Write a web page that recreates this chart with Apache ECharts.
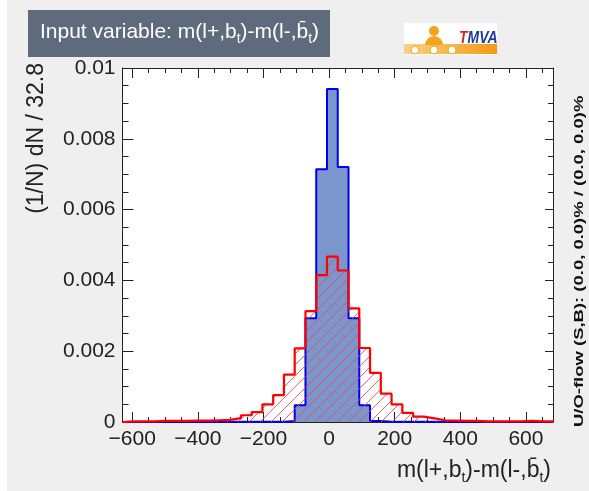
<!DOCTYPE html>
<html lang="en">
<head>
	<meta charset="utf-8">
	<title>TMVA input variable</title>
	<script src="https://cdn.jsdelivr.net/npm/echarts@6/dist/echarts.min.js"></script>
	<style>
		html, body { margin: 0; padding: 0; background: #efefef; }
		#panel { width: 589px; height: 491px; }
	</style>
</head>
<body>
	<div id="panel"></div>
	<script type="text/javascript">
		// histogram binning: 40 bins of 32.8
		const xMin = -629.5;
		const binWidth = 32.8;
		const nBins = 40;
		const xMax = xMin + nBins * binWidth;

		// signal (blue, filled), one value per bin
		const sigValues = [
			0, 0, 0, 0, 0, 0, 0, 0, 0.00001, 0.00001,
			0.00001, 0.00001, 0.00001, 0.00001, 0.00001, 0.00003, 0.00047, 0.00293, 0.00714, 0.00941,
			0.00720, 0.00293, 0.00047, 0.00003, 0.00001, 0.00001, 0.00001, 0.00001, 0.00001, 0.00001,
			0.00001, 0, 0, 0, 0, 0, 0, 0, 0, 0
		];
		// background (red, hatched), one value per bin
		const bkgValues = [
			0.00002, 0.00002, 0.00002, 0.00003, 0.00003, 0.00003, 0.00004, 0.00004, 0.00005, 0.00006,
			0.00011, 0.00019, 0.00028, 0.00050, 0.00076, 0.00134, 0.00208, 0.00313, 0.00415, 0.00467,
			0.00428, 0.00321, 0.00209, 0.00139, 0.00080, 0.00050, 0.00026, 0.00015, 0.00010, 0.00005,
			0.00004, 0.00003, 0.00003, 0.00002, 0.00002, 0.00002, 0.00002, 0.00003, 0.00002, 0.00002
		];

		const font = '"Liberation Sans", Arial, Helvetica, sans-serif';
		const axisColor = '#222';

		// turn bin values into points for a step line
		function stepPoints(values) {
			const pts = [[xMin, 0]];
			values.forEach((v, i) => pts.push([xMin + i * binWidth, v]));
			pts.push([xMax, 0]);
			return pts;
		}

		// [left edge, right edge, value] for the hatched bins
		const bkgBins = bkgValues.map((v, i) => [xMin + i * binWidth, xMin + (i + 1) * binWidth, v]);

		// red "/" hatching inside one bin (like ROOT fill style 3554)
		function renderHatch(params, api) {
			const p0 = api.coord([api.value(0), 0]);
			const p1 = api.coord([api.value(1), api.value(2)]);
			const x0 = p0[0], x1 = p1[0], yb = p0[1], yt = p1[1];
			const gap = 11;
			const children = [];
			for (let c = Math.ceil((x0 + yt) / gap) * gap; c <= x1 + yb; c += gap) {
				const ya = Math.max(yt, c - x1);
				const yz = Math.min(yb, c - x0);
				if (yz - ya > 0.5) {
					children.push({
						type: 'line',
						shape: { x1: c - ya, y1: ya, x2: c - yz, y2: yz },
						style: { stroke: 'rgba(235,70,70,0.85)', lineWidth: 1 }
					});
				}
			}
			return { type: 'group', children: children };
		}

		function frameAxis(pos, show, major, minor) {
			const horiz = pos === 'top' || pos === 'bottom';
			return {
				type: 'value',
				position: pos,
				min: horiz ? xMin : 0,
				max: horiz ? xMax : 0.01,
				splitNumber: 6,
				interval: horiz ? undefined : 0.002,
				axisLine: { show: true, onZero: false, lineStyle: { color: axisColor, width: 1 } },
				axisTick: { show: true, inside: true, length: major, lineStyle: { color: axisColor } },
				minorTick: { show: true, splitNumber: 4, length: minor, lineStyle: { color: axisColor } },
				splitLine: { show: false },
				axisLabel: {
					show: show,
					margin: 7,
					fontSize: 21,
					fontFamily: font,
					color: axisColor,
					showMinLabel: !horiz,
					showMaxLabel: !horiz,
					formatter: (v) => String(v).replace('-', '\u2212')
				}
			};
		}

		const subStyle = { fontSize: 14, fontFamily: font, padding: [14, 0, 0, 0] };

		const panel = echarts.init(document.getElementById('panel'));
		const option = {
			backgroundColor: '#efefef',
			animation: false,
			grid: { left: 122.5, right: 36, top: 68, bottom: 69, show: true, backgroundColor: '#fff', borderWidth: 0 },
			xAxis: [frameAxis('bottom', true, 10, 5), frameAxis('top', false, 10, 5)],
			yAxis: [frameAxis('left', true, 11, 6), frameAxis('right', false, 8, 5)],
			series: [
				{
					name: 'Signal',
					type: 'line',
					step: 'end',
					symbol: 'none',
					data: stepPoints(sigValues),
					lineStyle: { color: '#0000ee', width: 2 },
					areaStyle: { color: '#7b95cd', opacity: 1 },
					z: 2
				},
				{
					name: 'Background hatch',
					type: 'custom',
					renderItem: renderHatch,
					data: bkgBins,
					encode: { x: [0, 1], y: 2 },
					clip: true,
					z: 3
				},
				{
					name: 'Background',
					type: 'line',
					step: 'end',
					symbol: 'none',
					data: stepPoints(bkgValues),
					lineStyle: { color: '#ff0000', width: 2.2 },
					z: 4
				}
			],
			graphic: [
				{ type: 'rect', shape: { x: 0, y: 0, width: 7, height: 491 }, style: { fill: '#fff' } },
				// title box
				{ type: 'rect', shape: { x: 28, y: 10, width: 302, height: 47 }, style: { fill: '#5d6b7d' } },
				{
					type: 'text', x: 40, y: 32,
					style: {
						text: 'Input variable: m(l+,b{s|t})-m(l-,b\u0304{s|t})',
						fontSize: 21, fontFamily: font, fill: '#fff', verticalAlign: 'middle',
						rich: { s: Object.assign({ fill: '#fff' }, subStyle) }
					}
				},
				// TMVA logo
				{ type: 'rect', shape: { x: 404, y: 23, width: 93, height: 32 }, style: { fill: '#fff' } },
				{
					type: 'rect', shape: { x: 404, y: 44, width: 93, height: 10 },
					style: { fill: new echarts.graphic.LinearGradient(0, 0, 1, 0, [{ offset: 0, color: '#fbd08a' }, { offset: 1, color: '#f39a12' }]) }
				},
				{ type: 'circle', shape: { cx: 434, cy: 31, r: 5 }, style: { fill: '#f5a31c' } },
				{ type: 'sector', shape: { cx: 434, cy: 45, r: 9, startAngle: Math.PI, endAngle: Math.PI * 2 }, style: { fill: '#f5a31c' } },
				{ type: 'circle', shape: { cx: 415, cy: 50, r: 4 }, style: { fill: '#fff', stroke: '#f5a31c', lineWidth: 1 } },
				{ type: 'circle', shape: { cx: 434, cy: 50, r: 4 }, style: { fill: '#fff', stroke: '#f5a31c', lineWidth: 1 } },
				{ type: 'circle', shape: { cx: 452, cy: 50, r: 4 }, style: { fill: '#fff', stroke: '#f5a31c', lineWidth: 1 } },
				{
					type: 'text', x: 459, y: 38, scaleX: 0.82,
					style: {
						text: '{t|T}{m|MVA}', verticalAlign: 'middle',
						rich: {
							t: { fontSize: 17, fontWeight: 'bold', fontStyle: 'italic', fontFamily: font, fill: '#e02020' },
							m: { fontSize: 17, fontWeight: 'bold', fontStyle: 'italic', fontFamily: font, fill: '#1c3c9c' }
						}
					}
				},
				// axis titles
				{
					type: 'text', x: 37, y: 63, rotation: Math.PI / 2,
					style: { text: '(1/N) dN / 32.8', fontSize: 23, fontFamily: font, fill: axisColor, align: 'right', verticalAlign: 'middle' }
				},
				{
					type: 'text', x: 551, y: 471,
					style: {
						text: 'm(l+,b{s|t})-m(l-,b\u0304{s|t})',
						fontSize: 23, fontFamily: font, fill: axisColor, align: 'right', verticalAlign: 'middle',
						rich: { s: Object.assign({ fill: axisColor }, subStyle) }
					}
				},
				{
					type: 'text', x: 579, y: 427, rotation: Math.PI / 2, scaleX: 1.42,
					style: {
						text: 'U/O-flow (S,B): (0.0, 0.0)% / (0.0, 0.0)%',
						fontSize: 13, fontWeight: 'bold', fontFamily: font, fill: '#111', align: 'left', verticalAlign: 'middle'
					}
				}
			]
		};
		panel.setOption(option);
	</script>
</body>
</html>
